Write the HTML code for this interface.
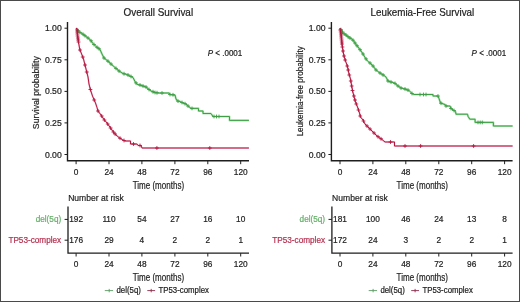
<!DOCTYPE html>
<html><head><meta charset="utf-8"><style>
html,body{margin:0;padding:0;background:#fff;}
svg{display:block;will-change:transform;}
text{font-family:"Liberation Sans", sans-serif;}
</style></head><body>
<svg width="520" height="302" viewBox="0 0 520 302">
<rect x="0" y="0" width="520" height="302" fill="#fff"/>
<text x="123.5" y="15.9" font-size="10.3" textLength="69.6" lengthAdjust="spacingAndGlyphs" fill="#222" stroke="#222" stroke-width="0.2">Overall Survival</text>
<text transform="translate(39.3,92.7) rotate(-90)" x="0" y="0" text-anchor="middle" font-size="9.3" textLength="72.9" lengthAdjust="spacingAndGlyphs" fill="#222" stroke="#222" stroke-width="0.2">Survival probability</text>
<path d="M67.5 22 V160.7 H249.0" fill="none" stroke="#1e1e1e" stroke-width="1.4"/>
<path d="M64.5 28.2 H67.5" stroke="#1e1e1e" stroke-width="1"/>
<text x="61.7" y="31.2" text-anchor="end" font-size="8.3" textLength="16.8" lengthAdjust="spacingAndGlyphs" fill="#222" stroke="#222" stroke-width="0.2">1.00</text>
<path d="M64.5 59.8 H67.5" stroke="#1e1e1e" stroke-width="1"/>
<text x="61.7" y="62.8" text-anchor="end" font-size="8.3" textLength="16.8" lengthAdjust="spacingAndGlyphs" fill="#222" stroke="#222" stroke-width="0.2">0.75</text>
<path d="M64.5 91.4 H67.5" stroke="#1e1e1e" stroke-width="1"/>
<text x="61.7" y="94.4" text-anchor="end" font-size="8.3" textLength="16.8" lengthAdjust="spacingAndGlyphs" fill="#222" stroke="#222" stroke-width="0.2">0.50</text>
<path d="M64.5 122.9 H67.5" stroke="#1e1e1e" stroke-width="1"/>
<text x="61.7" y="125.9" text-anchor="end" font-size="8.3" textLength="16.8" lengthAdjust="spacingAndGlyphs" fill="#222" stroke="#222" stroke-width="0.2">0.25</text>
<path d="M64.5 154.5 H67.5" stroke="#1e1e1e" stroke-width="1"/>
<text x="61.7" y="157.5" text-anchor="end" font-size="8.3" textLength="16.8" lengthAdjust="spacingAndGlyphs" fill="#222" stroke="#222" stroke-width="0.2">0.00</text>
<path d="M76.1 160.7 V164.2" stroke="#1e1e1e" stroke-width="1"/>
<text x="76.1" y="174.7" text-anchor="middle" font-size="8.3" fill="#222" stroke="#222" stroke-width="0.2">0</text>
<path d="M109.0 160.7 V164.2" stroke="#1e1e1e" stroke-width="1"/>
<text x="109.0" y="174.7" text-anchor="middle" font-size="8.3" fill="#222" stroke="#222" stroke-width="0.2">24</text>
<path d="M141.9 160.7 V164.2" stroke="#1e1e1e" stroke-width="1"/>
<text x="141.9" y="174.7" text-anchor="middle" font-size="8.3" fill="#222" stroke="#222" stroke-width="0.2">48</text>
<path d="M174.9 160.7 V164.2" stroke="#1e1e1e" stroke-width="1"/>
<text x="174.9" y="174.7" text-anchor="middle" font-size="8.3" fill="#222" stroke="#222" stroke-width="0.2">72</text>
<path d="M207.8 160.7 V164.2" stroke="#1e1e1e" stroke-width="1"/>
<text x="207.8" y="174.7" text-anchor="middle" font-size="8.3" fill="#222" stroke="#222" stroke-width="0.2">96</text>
<path d="M240.7 160.7 V164.2" stroke="#1e1e1e" stroke-width="1"/>
<text x="240.7" y="174.7" text-anchor="middle" font-size="8.3" fill="#222" stroke="#222" stroke-width="0.2">120</text>
<text x="132.7" y="188.5" font-size="10" textLength="51.4" lengthAdjust="spacingAndGlyphs" fill="#222" stroke="#222" stroke-width="0.2">Time (months)</text>
<text x="207.7" y="55.9" font-size="8.4" textLength="34.6" lengthAdjust="spacingAndGlyphs" fill="#222" stroke="#222" stroke-width="0.2"><tspan font-style="italic">P</tspan> &lt; .0001</text>
<polyline points="76.0,28.0 77.5,30.0 79.0,31.8 82.0,33.5 86.0,36.5 90.0,39.5 93.0,43.5 96.0,46.5 100.0,49.5 102.0,54.0 104.0,58.0 107.0,60.3 111.0,64.0 115.0,67.5 119.0,71.0 123.0,73.5 127.0,74.5 130.0,76.0 133.0,77.5 135.0,81.5 137.0,84.3 140.0,85.0 143.0,86.0 146.0,87.0 149.0,89.5 151.0,91.0 155.0,92.5 159.0,93.0 169.0,93.0 170.0,94.5 175.0,95.0 176.0,99.0 177.5,101.0 180.0,101.5 183.0,103.0 186.0,104.0 188.0,106.0 191.0,108.4 198.5,108.4 198.5,111.0 203.0,111.0 203.0,113.5 211.0,113.5 212.0,115.0 213.0,116.5 229.5,116.5 229.5,120.4 248.9,120.4" fill="none" stroke="#ace6b0" stroke-width="2.1" stroke-linejoin="round"/>
<polyline points="76.0,28.0 77.0,29.0 77.5,35.0 78.5,42.0 79.5,48.0 80.0,50.0 82.0,55.0 83.5,59.0 85.0,65.0 86.5,71.0 88.0,77.0 89.0,84.0 90.5,90.0 92.5,96.0 94.0,99.5 95.5,103.0 97.0,107.5 98.0,111.0 101.0,115.0 104.0,119.5 107.0,123.0 110.0,127.2 113.0,131.5 116.0,135.0 119.0,137.5 122.0,139.5 125.0,141.0 130.5,141.0 130.5,144.0 137.0,144.0 138.0,145.5 141.0,145.5 142.0,148.0 248.9,148.0" fill="none" stroke="#f5c0d2" stroke-width="1.8" stroke-linejoin="round"/>
<polyline points="76.0,28.0 77.5,30.0 79.0,31.8 82.0,33.5 86.0,36.5 90.0,39.5 93.0,43.5 96.0,46.5 100.0,49.5 102.0,54.0 104.0,58.0 107.0,60.3 111.0,64.0 115.0,67.5 119.0,71.0 123.0,73.5 127.0,74.5 130.0,76.0 133.0,77.5 135.0,81.5 137.0,84.3 140.0,85.0 143.0,86.0 146.0,87.0 149.0,89.5 151.0,91.0 155.0,92.5 159.0,93.0 169.0,93.0 170.0,94.5 175.0,95.0 176.0,99.0 177.5,101.0 180.0,101.5 183.0,103.0 186.0,104.0 188.0,106.0 191.0,108.4 198.5,108.4 198.5,111.0 203.0,111.0 203.0,113.5 211.0,113.5 212.0,115.0 213.0,116.5 229.5,116.5 229.5,120.4 248.9,120.4" fill="none" stroke="#3f9e46" stroke-width="1.0" stroke-linejoin="round"/>
<polyline points="76.0,28.0 77.0,29.0 77.5,35.0 78.5,42.0 79.5,48.0 80.0,50.0 82.0,55.0 83.5,59.0 85.0,65.0 86.5,71.0 88.0,77.0 89.0,84.0 90.5,90.0 92.5,96.0 94.0,99.5 95.5,103.0 97.0,107.5 98.0,111.0 101.0,115.0 104.0,119.5 107.0,123.0 110.0,127.2 113.0,131.5 116.0,135.0 119.0,137.5 122.0,139.5 125.0,141.0 130.5,141.0 130.5,144.0 137.0,144.0 138.0,145.5 141.0,145.5 142.0,148.0 248.9,148.0" fill="none" stroke="#b3163f" stroke-width="1.0" stroke-linejoin="round"/>
<path d="M76.1 30.6H79.9M78.0 28.7V32.5M78.1 32.4H81.9M80.0 30.5V34.3M81.1 34.2H84.9M83.0 32.4V36.1M83.1 35.8H86.9M85.0 33.9V37.6M86.1 38.0H89.9M88.0 36.1V39.9M89.1 40.8H92.9M91.0 38.9V42.7M92.1 44.5H95.9M94.0 42.6V46.4M95.1 47.2H98.9M97.0 45.4V49.1M97.1 48.8H100.9M99.0 46.9V50.6M102.1 58.0H105.9M104.0 56.1V59.9M106.1 61.2H109.9M108.0 59.3V63.1M109.1 64.0H112.9M111.0 62.1V65.9M114.1 68.4H117.9M116.0 66.5V70.3M117.1 71.0H120.9M119.0 69.1V72.9M122.1 73.8H125.9M124.0 71.8V75.7M126.1 75.0H129.9M128.0 73.1V76.9M129.1 76.5H132.9M131.0 74.6V78.4M134.1 82.9H137.9M136.0 81.0V84.8M138.1 85.0H141.9M140.0 83.1V86.9M141.1 86.0H144.9M143.0 84.1V87.9M144.1 87.0H147.9M146.0 85.1V88.9M147.1 89.5H150.9M149.0 87.6V91.4M151.1 91.8H154.9M153.0 89.8V93.7M153.1 92.5H156.9M155.0 90.6V94.4M155.1 92.8H158.9M157.0 90.8V94.7M160.1 93.0H163.9M162.0 91.1V94.9M168.1 94.5H171.9M170.0 92.6V96.4M171.1 94.8H174.9M173.0 92.9V96.7M176.1 101.1H179.9M178.0 99.2V103.0M180.1 102.5H183.9M182.0 100.6V104.4M183.1 103.7H186.9M185.0 101.8V105.6M186.1 106.0H189.9M188.0 104.1V107.9M190.1 108.4H193.9M192.0 106.5V110.3M212.1 116.5H215.9M214.0 114.6V118.4M214.6 116.5H218.4M216.5 114.6V118.4M217.1 116.5H220.9M219.0 114.6V118.4" fill="none" stroke="#3f9e46" stroke-width="0.9"/>
<path d="M75.2 30.0H79.0M77.1 28.1V31.9M75.3 32.0H79.2M77.2 30.1V33.9M75.5 34.0H79.3M77.4 32.1V35.9M75.7 36.0H79.5M77.6 34.1V37.9M76.0 38.0H79.8M77.9 36.1V39.9M76.3 40.0H80.1M78.2 38.1V41.9M76.6 42.0H80.4M78.5 40.1V43.9M78.1 50.0H81.9M80.0 48.1V51.9M80.8 57.0H84.7M82.8 55.1V58.9M83.1 65.0H86.9M85.0 63.1V66.9M84.8 72.0H88.7M86.8 70.1V73.9M88.5 89.5H92.3M90.4 87.6V91.4M92.3 100.0H96.1M94.2 98.1V101.9M96.1 111.0H99.9M98.0 109.1V112.9M99.8 116.0H103.6M101.7 114.1V117.9M102.5 120.0H106.3M104.4 118.1V121.9M105.8 124.0H109.6M107.7 122.1V125.9M108.7 128.0H112.5M110.6 126.1V129.9M111.5 132.0H115.3M113.4 130.1V133.9M113.2 134.0H117.0M115.1 132.1V135.9M118.1 138.2H121.9M120.0 136.3V140.1M122.1 140.5H125.9M124.0 138.6V142.4M131.6 144.0H135.4M133.5 142.1V145.9M138.1 145.5H141.9M140.0 143.6V147.4M155.0 148.0H158.8M156.9 146.1V149.9M207.9 148.0H211.7M209.8 146.1V149.9" fill="none" stroke="#b3163f" stroke-width="0.9"/>
<text x="68.2" y="200.9" font-size="9.3" textLength="55.6" lengthAdjust="spacingAndGlyphs" fill="#222" stroke="#222" stroke-width="0.2">Number at risk</text>
<path d="M68.0 206.6 V253.2 H249.0" fill="none" stroke="#1e1e1e" stroke-width="1.3"/>
<path d="M64.6 219.4 H68.0" stroke="#1e1e1e" stroke-width="1"/>
<text x="61.2" y="222.3" text-anchor="end" font-size="8.2" fill="#66b06a" stroke="#66b06a" stroke-width="0.2">del(5q)</text>
<path d="M64.6 240.2 H68.0" stroke="#1e1e1e" stroke-width="1"/>
<text x="61.2" y="243.1" text-anchor="end" font-size="8.2" fill="#b5304f" stroke="#b5304f" stroke-width="0.2">TP53-complex</text>
<path d="M76.1 253.2 V256.5" stroke="#1e1e1e" stroke-width="1"/>
<text x="76.1" y="266.8" text-anchor="middle" font-size="8.3" fill="#222" stroke="#222" stroke-width="0.2">0</text>
<text x="76.1" y="222.2" text-anchor="middle" font-size="8.3" fill="#222" stroke="#222" stroke-width="0.2">192</text>
<text x="76.1" y="243.1" text-anchor="middle" font-size="8.3" fill="#222" stroke="#222" stroke-width="0.2">176</text>
<path d="M109.0 253.2 V256.5" stroke="#1e1e1e" stroke-width="1"/>
<text x="109.0" y="266.8" text-anchor="middle" font-size="8.3" fill="#222" stroke="#222" stroke-width="0.2">24</text>
<text x="109.0" y="222.2" text-anchor="middle" font-size="8.3" fill="#222" stroke="#222" stroke-width="0.2">110</text>
<text x="109.0" y="243.1" text-anchor="middle" font-size="8.3" fill="#222" stroke="#222" stroke-width="0.2">29</text>
<path d="M141.9 253.2 V256.5" stroke="#1e1e1e" stroke-width="1"/>
<text x="141.9" y="266.8" text-anchor="middle" font-size="8.3" fill="#222" stroke="#222" stroke-width="0.2">48</text>
<text x="141.9" y="222.2" text-anchor="middle" font-size="8.3" fill="#222" stroke="#222" stroke-width="0.2">54</text>
<text x="141.9" y="243.1" text-anchor="middle" font-size="8.3" fill="#222" stroke="#222" stroke-width="0.2">4</text>
<path d="M174.9 253.2 V256.5" stroke="#1e1e1e" stroke-width="1"/>
<text x="174.9" y="266.8" text-anchor="middle" font-size="8.3" fill="#222" stroke="#222" stroke-width="0.2">72</text>
<text x="174.9" y="222.2" text-anchor="middle" font-size="8.3" fill="#222" stroke="#222" stroke-width="0.2">27</text>
<text x="174.9" y="243.1" text-anchor="middle" font-size="8.3" fill="#222" stroke="#222" stroke-width="0.2">2</text>
<path d="M207.8 253.2 V256.5" stroke="#1e1e1e" stroke-width="1"/>
<text x="207.8" y="266.8" text-anchor="middle" font-size="8.3" fill="#222" stroke="#222" stroke-width="0.2">96</text>
<text x="207.8" y="222.2" text-anchor="middle" font-size="8.3" fill="#222" stroke="#222" stroke-width="0.2">16</text>
<text x="207.8" y="243.1" text-anchor="middle" font-size="8.3" fill="#222" stroke="#222" stroke-width="0.2">2</text>
<path d="M240.7 253.2 V256.5" stroke="#1e1e1e" stroke-width="1"/>
<text x="240.7" y="266.8" text-anchor="middle" font-size="8.3" fill="#222" stroke="#222" stroke-width="0.2">120</text>
<text x="240.7" y="222.2" text-anchor="middle" font-size="8.3" fill="#222" stroke="#222" stroke-width="0.2">10</text>
<text x="240.7" y="243.1" text-anchor="middle" font-size="8.3" fill="#222" stroke="#222" stroke-width="0.2">1</text>
<text x="132.7" y="280.6" font-size="10" textLength="51.4" lengthAdjust="spacingAndGlyphs" fill="#222" stroke="#222" stroke-width="0.2">Time (months)</text>
<path d="M104.8 290.6 H113.1 M109.2 288.9 V292.3" stroke="#5a9a62" stroke-width="0.9"/>
<text x="116.5" y="292.9" font-size="8.2" textLength="24.4" lengthAdjust="spacingAndGlyphs" fill="#222" stroke="#222" stroke-width="0.2">del(5q)</text>
<path d="M147.3 290.6 H155.1 M151.2 288.9 V292.3" stroke="#8a2a4a" stroke-width="0.9"/>
<text x="158.5" y="292.9" font-size="8.2" textLength="50.5" lengthAdjust="spacingAndGlyphs" fill="#222" stroke="#222" stroke-width="0.2">TP53-complex</text>
<text x="370.5" y="15.9" font-size="10.3" textLength="103.7" lengthAdjust="spacingAndGlyphs" fill="#222" stroke="#222" stroke-width="0.2">Leukemia-Free Survival</text>
<text transform="translate(303.2,91.3) rotate(-90)" x="0" y="0" text-anchor="middle" font-size="9.3" textLength="90.1" lengthAdjust="spacingAndGlyphs" fill="#222" stroke="#222" stroke-width="0.2">Leukemia-free probability</text>
<path d="M331.4 22 V160.7 H512.6" fill="none" stroke="#1e1e1e" stroke-width="1.4"/>
<path d="M328.4 28.2 H331.4" stroke="#1e1e1e" stroke-width="1"/>
<text x="325.6" y="31.2" text-anchor="end" font-size="8.3" textLength="16.8" lengthAdjust="spacingAndGlyphs" fill="#222" stroke="#222" stroke-width="0.2">1.00</text>
<path d="M328.4 59.8 H331.4" stroke="#1e1e1e" stroke-width="1"/>
<text x="325.6" y="62.8" text-anchor="end" font-size="8.3" textLength="16.8" lengthAdjust="spacingAndGlyphs" fill="#222" stroke="#222" stroke-width="0.2">0.75</text>
<path d="M328.4 91.4 H331.4" stroke="#1e1e1e" stroke-width="1"/>
<text x="325.6" y="94.4" text-anchor="end" font-size="8.3" textLength="16.8" lengthAdjust="spacingAndGlyphs" fill="#222" stroke="#222" stroke-width="0.2">0.50</text>
<path d="M328.4 122.9 H331.4" stroke="#1e1e1e" stroke-width="1"/>
<text x="325.6" y="125.9" text-anchor="end" font-size="8.3" textLength="16.8" lengthAdjust="spacingAndGlyphs" fill="#222" stroke="#222" stroke-width="0.2">0.25</text>
<path d="M328.4 154.5 H331.4" stroke="#1e1e1e" stroke-width="1"/>
<text x="325.6" y="157.5" text-anchor="end" font-size="8.3" textLength="16.8" lengthAdjust="spacingAndGlyphs" fill="#222" stroke="#222" stroke-width="0.2">0.00</text>
<path d="M340.0 160.7 V164.2" stroke="#1e1e1e" stroke-width="1"/>
<text x="340.0" y="174.7" text-anchor="middle" font-size="8.3" fill="#222" stroke="#222" stroke-width="0.2">0</text>
<path d="M372.9 160.7 V164.2" stroke="#1e1e1e" stroke-width="1"/>
<text x="372.9" y="174.7" text-anchor="middle" font-size="8.3" fill="#222" stroke="#222" stroke-width="0.2">24</text>
<path d="M405.8 160.7 V164.2" stroke="#1e1e1e" stroke-width="1"/>
<text x="405.8" y="174.7" text-anchor="middle" font-size="8.3" fill="#222" stroke="#222" stroke-width="0.2">48</text>
<path d="M438.8 160.7 V164.2" stroke="#1e1e1e" stroke-width="1"/>
<text x="438.8" y="174.7" text-anchor="middle" font-size="8.3" fill="#222" stroke="#222" stroke-width="0.2">72</text>
<path d="M471.7 160.7 V164.2" stroke="#1e1e1e" stroke-width="1"/>
<text x="471.7" y="174.7" text-anchor="middle" font-size="8.3" fill="#222" stroke="#222" stroke-width="0.2">96</text>
<path d="M504.6 160.7 V164.2" stroke="#1e1e1e" stroke-width="1"/>
<text x="504.6" y="174.7" text-anchor="middle" font-size="8.3" fill="#222" stroke="#222" stroke-width="0.2">120</text>
<text x="396.6" y="188.5" font-size="10" textLength="51.4" lengthAdjust="spacingAndGlyphs" fill="#222" stroke="#222" stroke-width="0.2">Time (months)</text>
<text x="471.6" y="55.9" font-size="8.4" textLength="34.6" lengthAdjust="spacingAndGlyphs" fill="#222" stroke="#222" stroke-width="0.2"><tspan font-style="italic">P</tspan> &lt; .0001</text>
<polyline points="340.0,28.0 341.5,30.5 343.5,33.5 346.0,35.0 349.0,37.5 352.0,39.0 354.0,41.5 356.0,44.5 358.0,47.0 361.0,51.0 363.0,54.0 365.0,57.5 367.5,61.0 370.0,63.0 373.0,66.0 376.0,70.0 380.0,73.0 384.0,75.5 386.0,77.0 388.0,81.0 391.0,82.0 394.5,83.0 398.0,86.0 401.0,88.0 405.0,89.0 409.0,90.5 412.0,93.5 413.5,94.5 433.0,94.5 433.0,96.0 438.0,96.0 439.0,98.5 440.5,103.0 445.0,104.5 446.0,106.0 450.0,106.0 451.0,108.5 454.0,110.5 455.5,111.5 456.0,114.2 467.5,114.2 468.0,116.3 469.8,119.2 475.1,119.2 475.1,122.4 493.4,122.4 493.4,126.0 512.6,126.0" fill="none" stroke="#ace6b0" stroke-width="2.1" stroke-linejoin="round"/>
<polyline points="340.0,28.0 341.0,34.0 342.0,44.0 343.0,51.0 344.0,56.0 345.5,61.0 347.0,65.0 348.0,69.0 349.0,74.0 350.5,79.0 351.5,85.0 352.5,90.5 354.0,96.5 355.5,102.0 357.5,107.0 359.5,113.0 360.5,117.0 363.0,120.0 365.0,124.0 368.0,127.0 371.0,130.0 374.0,133.0 376.0,135.0 379.0,137.5 382.0,139.5 385.0,142.0 394.5,142.0 394.5,146.0 512.6,146.0" fill="none" stroke="#f5c0d2" stroke-width="1.8" stroke-linejoin="round"/>
<polyline points="340.0,28.0 341.5,30.5 343.5,33.5 346.0,35.0 349.0,37.5 352.0,39.0 354.0,41.5 356.0,44.5 358.0,47.0 361.0,51.0 363.0,54.0 365.0,57.5 367.5,61.0 370.0,63.0 373.0,66.0 376.0,70.0 380.0,73.0 384.0,75.5 386.0,77.0 388.0,81.0 391.0,82.0 394.5,83.0 398.0,86.0 401.0,88.0 405.0,89.0 409.0,90.5 412.0,93.5 413.5,94.5 433.0,94.5 433.0,96.0 438.0,96.0 439.0,98.5 440.5,103.0 445.0,104.5 446.0,106.0 450.0,106.0 451.0,108.5 454.0,110.5 455.5,111.5 456.0,114.2 467.5,114.2 468.0,116.3 469.8,119.2 475.1,119.2 475.1,122.4 493.4,122.4 493.4,126.0 512.6,126.0" fill="none" stroke="#3f9e46" stroke-width="1.0" stroke-linejoin="round"/>
<polyline points="340.0,28.0 341.0,34.0 342.0,44.0 343.0,51.0 344.0,56.0 345.5,61.0 347.0,65.0 348.0,69.0 349.0,74.0 350.5,79.0 351.5,85.0 352.5,90.5 354.0,96.5 355.5,102.0 357.5,107.0 359.5,113.0 360.5,117.0 363.0,120.0 365.0,124.0 368.0,127.0 371.0,130.0 374.0,133.0 376.0,135.0 379.0,137.5 382.0,139.5 385.0,142.0 394.5,142.0 394.5,146.0 512.6,146.0" fill="none" stroke="#b3163f" stroke-width="1.0" stroke-linejoin="round"/>
<path d="M339.1 29.7H342.9M341.0 27.8V31.6M340.6 32.0H344.4M342.5 30.1V33.9M342.1 33.8H345.9M344.0 31.9V35.7M344.1 35.0H347.9M346.0 33.1V36.9M346.1 36.7H349.9M348.0 34.8V38.6M348.1 38.0H351.9M350.0 36.1V39.9M351.1 40.2H354.9M353.0 38.4V42.1M353.1 43.0H356.9M355.0 41.1V44.9M355.1 45.8H358.9M357.0 43.9V47.6M358.1 49.7H361.9M360.0 47.8V51.6M361.1 54.0H364.9M363.0 52.1V55.9M364.1 58.9H367.9M366.0 57.0V60.8M368.1 63.0H371.9M370.0 61.1V64.9M371.1 66.0H374.9M373.0 64.1V67.9M374.1 70.0H377.9M376.0 68.1V71.9M378.1 73.0H381.9M380.0 71.1V74.9M381.1 74.9H384.9M383.0 73.0V76.8M386.1 81.0H389.9M388.0 79.1V82.9M389.1 82.0H392.9M391.0 80.1V83.9M393.1 83.4H396.9M395.0 81.5V85.3M396.1 86.0H399.9M398.0 84.1V87.9M399.1 88.0H402.9M401.0 86.1V89.9M403.1 89.0H406.9M405.0 87.1V90.9M406.1 90.1H409.9M408.0 88.2V92.0M410.1 93.5H413.9M412.0 91.6V95.4M418.1 94.5H421.9M420.0 92.6V96.4M421.6 94.5H425.4M423.5 92.6V96.4M424.1 94.5H427.9M426.0 92.6V96.4M436.1 96.0H439.9M438.0 94.1V97.9M439.1 103.2H442.9M441.0 101.3V105.1M444.1 106.0H447.9M446.0 104.1V107.9M449.1 108.5H452.9M451.0 106.6V110.4M452.1 110.5H455.9M454.0 108.6V112.4M476.1 122.4H479.9M478.0 120.5V124.3M478.3 122.4H482.1M480.2 120.5V124.3M480.4 122.4H484.2M482.3 120.5V124.3" fill="none" stroke="#3f9e46" stroke-width="0.9"/>
<path d="M338.4 30.0H342.2M340.3 28.1V31.9M338.8 32.0H342.6M340.7 30.1V33.9M339.1 34.0H342.9M341.0 32.1V35.9M339.3 36.0H343.1M341.2 34.1V37.9M339.5 38.0H343.3M341.4 36.1V39.9M339.7 40.0H343.5M341.6 38.1V41.9M339.9 42.0H343.7M341.8 40.1V43.9M340.1 44.0H343.9M342.0 42.1V45.9M340.5 47.0H344.3M342.4 45.1V48.9M341.1 51.0H344.9M343.0 49.1V52.9M342.1 56.0H345.9M344.0 54.1V57.9M343.3 60.0H347.1M345.2 58.1V61.9M345.4 66.0H349.1M347.2 64.1V67.9M346.3 70.0H350.1M348.2 68.1V71.9M347.4 75.0H351.2M349.3 73.1V76.9M348.9 81.0H352.7M350.8 79.1V82.9M349.8 86.0H353.6M351.7 84.1V87.9M350.6 90.5H354.4M352.5 88.6V92.4M352.0 96.0H355.8M353.9 94.1V97.9M353.1 100.0H356.9M355.0 98.1V101.9M354.4 104.0H358.2M356.3 102.1V105.9M356.6 110.0H360.4M358.5 108.1V111.9M358.4 116.0H362.1M360.2 114.1V117.9M361.6 121.0H365.4M363.5 119.1V122.9M365.1 126.0H368.9M367.0 124.1V127.9M368.1 129.0H371.9M370.0 127.1V130.9M372.1 133.0H375.9M374.0 131.1V134.9M376.1 136.7H379.9M378.0 134.8V138.6M379.1 138.8H382.9M381.0 136.9V140.7M388.6 142.0H392.4M390.5 140.1V143.9M403.1 146.0H406.9M405.0 144.1V147.9M418.7 146.0H422.5M420.6 144.1V147.9M471.7 146.0H475.5M473.6 144.1V147.9" fill="none" stroke="#b3163f" stroke-width="0.9"/>
<text x="332.1" y="200.9" font-size="9.3" textLength="55.6" lengthAdjust="spacingAndGlyphs" fill="#222" stroke="#222" stroke-width="0.2">Number at risk</text>
<path d="M331.9 206.6 V253.2 H512.6" fill="none" stroke="#1e1e1e" stroke-width="1.3"/>
<path d="M328.5 219.4 H331.9" stroke="#1e1e1e" stroke-width="1"/>
<text x="325.1" y="222.3" text-anchor="end" font-size="8.2" fill="#66b06a" stroke="#66b06a" stroke-width="0.2">del(5q)</text>
<path d="M328.5 240.2 H331.9" stroke="#1e1e1e" stroke-width="1"/>
<text x="325.1" y="243.1" text-anchor="end" font-size="8.2" fill="#b5304f" stroke="#b5304f" stroke-width="0.2">TP53-complex</text>
<path d="M340.0 253.2 V256.5" stroke="#1e1e1e" stroke-width="1"/>
<text x="340.0" y="266.8" text-anchor="middle" font-size="8.3" fill="#222" stroke="#222" stroke-width="0.2">0</text>
<text x="340.0" y="222.2" text-anchor="middle" font-size="8.3" fill="#222" stroke="#222" stroke-width="0.2">181</text>
<text x="340.0" y="243.1" text-anchor="middle" font-size="8.3" fill="#222" stroke="#222" stroke-width="0.2">172</text>
<path d="M372.9 253.2 V256.5" stroke="#1e1e1e" stroke-width="1"/>
<text x="372.9" y="266.8" text-anchor="middle" font-size="8.3" fill="#222" stroke="#222" stroke-width="0.2">24</text>
<text x="372.9" y="222.2" text-anchor="middle" font-size="8.3" fill="#222" stroke="#222" stroke-width="0.2">100</text>
<text x="372.9" y="243.1" text-anchor="middle" font-size="8.3" fill="#222" stroke="#222" stroke-width="0.2">24</text>
<path d="M405.8 253.2 V256.5" stroke="#1e1e1e" stroke-width="1"/>
<text x="405.8" y="266.8" text-anchor="middle" font-size="8.3" fill="#222" stroke="#222" stroke-width="0.2">48</text>
<text x="405.8" y="222.2" text-anchor="middle" font-size="8.3" fill="#222" stroke="#222" stroke-width="0.2">46</text>
<text x="405.8" y="243.1" text-anchor="middle" font-size="8.3" fill="#222" stroke="#222" stroke-width="0.2">3</text>
<path d="M438.8 253.2 V256.5" stroke="#1e1e1e" stroke-width="1"/>
<text x="438.8" y="266.8" text-anchor="middle" font-size="8.3" fill="#222" stroke="#222" stroke-width="0.2">72</text>
<text x="438.8" y="222.2" text-anchor="middle" font-size="8.3" fill="#222" stroke="#222" stroke-width="0.2">24</text>
<text x="438.8" y="243.1" text-anchor="middle" font-size="8.3" fill="#222" stroke="#222" stroke-width="0.2">2</text>
<path d="M471.7 253.2 V256.5" stroke="#1e1e1e" stroke-width="1"/>
<text x="471.7" y="266.8" text-anchor="middle" font-size="8.3" fill="#222" stroke="#222" stroke-width="0.2">96</text>
<text x="471.7" y="222.2" text-anchor="middle" font-size="8.3" fill="#222" stroke="#222" stroke-width="0.2">13</text>
<text x="471.7" y="243.1" text-anchor="middle" font-size="8.3" fill="#222" stroke="#222" stroke-width="0.2">2</text>
<path d="M504.6 253.2 V256.5" stroke="#1e1e1e" stroke-width="1"/>
<text x="504.6" y="266.8" text-anchor="middle" font-size="8.3" fill="#222" stroke="#222" stroke-width="0.2">120</text>
<text x="504.6" y="222.2" text-anchor="middle" font-size="8.3" fill="#222" stroke="#222" stroke-width="0.2">8</text>
<text x="504.6" y="243.1" text-anchor="middle" font-size="8.3" fill="#222" stroke="#222" stroke-width="0.2">1</text>
<text x="396.6" y="280.6" font-size="10" textLength="51.4" lengthAdjust="spacingAndGlyphs" fill="#222" stroke="#222" stroke-width="0.2">Time (months)</text>
<path d="M368.7 290.6 H377.0 M373.1 288.9 V292.3" stroke="#5a9a62" stroke-width="0.9"/>
<text x="380.4" y="292.9" font-size="8.2" textLength="24.4" lengthAdjust="spacingAndGlyphs" fill="#222" stroke="#222" stroke-width="0.2">del(5q)</text>
<path d="M411.2 290.6 H419.0 M415.1 288.9 V292.3" stroke="#8a2a4a" stroke-width="0.9"/>
<text x="422.4" y="292.9" font-size="8.2" textLength="50.5" lengthAdjust="spacingAndGlyphs" fill="#222" stroke="#222" stroke-width="0.2">TP53-complex</text>
<rect x="0" y="0" width="520" height="1" fill="#4a4a4a"/><rect x="0" y="0" width="1" height="302" fill="#4a4a4a"/><rect x="519" y="0" width="1" height="302" fill="#4a4a4a"/><rect x="0" y="301" width="520" height="1" fill="#4a4a4a"/>
</svg>
</body></html>
